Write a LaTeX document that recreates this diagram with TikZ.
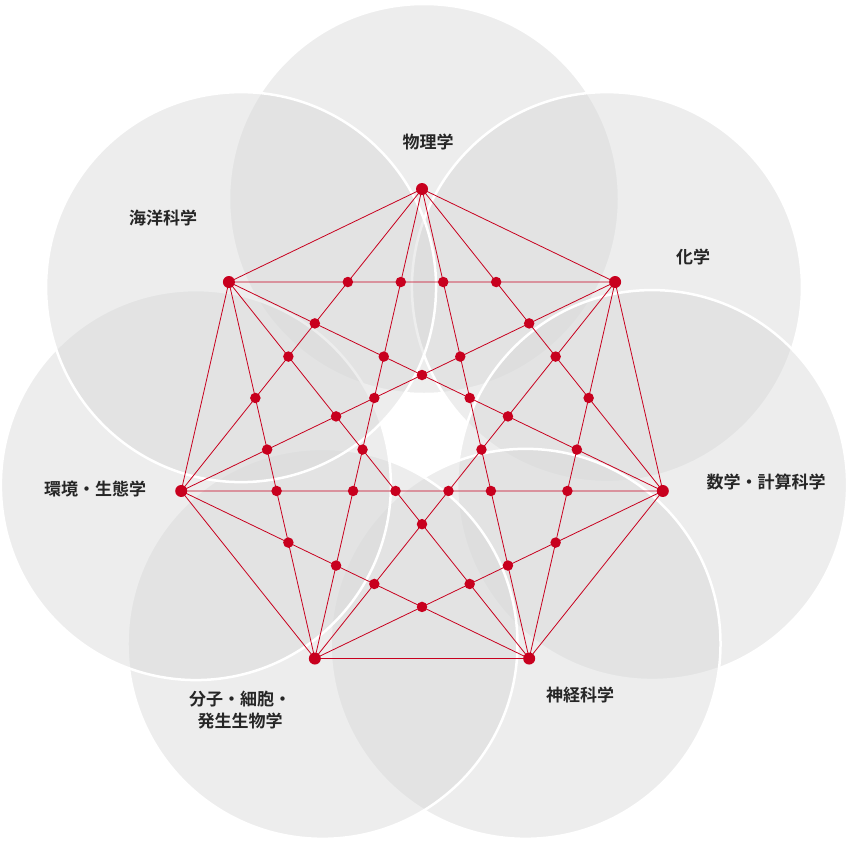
\documentclass[tikz,border=0pt]{standalone}
\usepackage{fontspec}
\newfontfamily\cjk{Noto Sans CJK JP Bold}
\usetikzlibrary{intersections}
\definecolor{redc}{HTML}{C8001E}
\definecolor{circ}{HTML}{D8D9D9}
\tikzset{
  bub/.style={fill=circ,fill opacity=0.45,draw=white,line width=2.5pt},
  chord/.style={draw=redc,line width=0.8pt},
  dot/.style={circle,fill=redc,inner sep=0pt,minimum size=10.5pt},
  vdot/.style={circle,fill=redc,inner sep=0pt,minimum size=12pt},
  lab/.style={font=\cjk\fontsize{17}{22}\selectfont,align=center,text=black!85}
}
\begin{document}
\begin{tikzpicture}[x=1pt,y=-1pt]
\useasboundingbox (0,0) rectangle (850,844);
\foreach \i in {0,...,6}{
  \coordinate (c\i) at ({424+234*cos(90-\i*360/7)},{433-234*sin(90-\i*360/7)});
  \fill[white] (c\i) circle (196);
}
\foreach \i in {0,...,6}{
  \path[bub] (c\i) circle (195);
}
\foreach \i in {0,...,6}{
  \coordinate (v\i) at ({422+247*cos(90-\i*360/7)},{436-247*sin(90-\i*360/7)});
}
\foreach \i in {0,...,5}{
  \pgfmathtruncatemacro\ja{\i+1}
  \foreach \j in {\ja,...,6}{
    \path[chord,name path global=c\i\j] (v\i) -- (v\j);
  }
}
\foreach \i in {0,...,3}{
 \pgfmathtruncatemacro\ja{\i+1}
 \foreach \j in {\ja,...,4}{
  \pgfmathtruncatemacro\ka{\j+1}
  \foreach \k in {\ka,...,5}{
   \pgfmathtruncatemacro\la{\k+1}
   \foreach \l in {\la,...,6}{
     \edef\tmpcmd{\noexpand\path[name intersections={of=c\i\k\space and c\j\l}]}
     \tmpcmd (intersection-1) node[dot] (p\i\j\k\l) {};
   }
  }
 }
}
\foreach \i in {0,...,6}{ \node[vdot] (n\i) at (v\i) {}; }
\node[lab] (l0) at (428,142) {物理学};
\node[lab] (l1) at (693,257) {化学};
\node[lab] (l2) at (766,482) {数学・計算科学};
\node[lab] (l3) at (580,695) {神経科学};
\node[lab] (l4) at (240,710) {分子・細胞・\\発生生物学};
\node[lab] (l5) at (95,489) {環境・生態学};
\node[lab] (l6) at (163,218) {海洋科学};
\end{tikzpicture}
\end{document}
